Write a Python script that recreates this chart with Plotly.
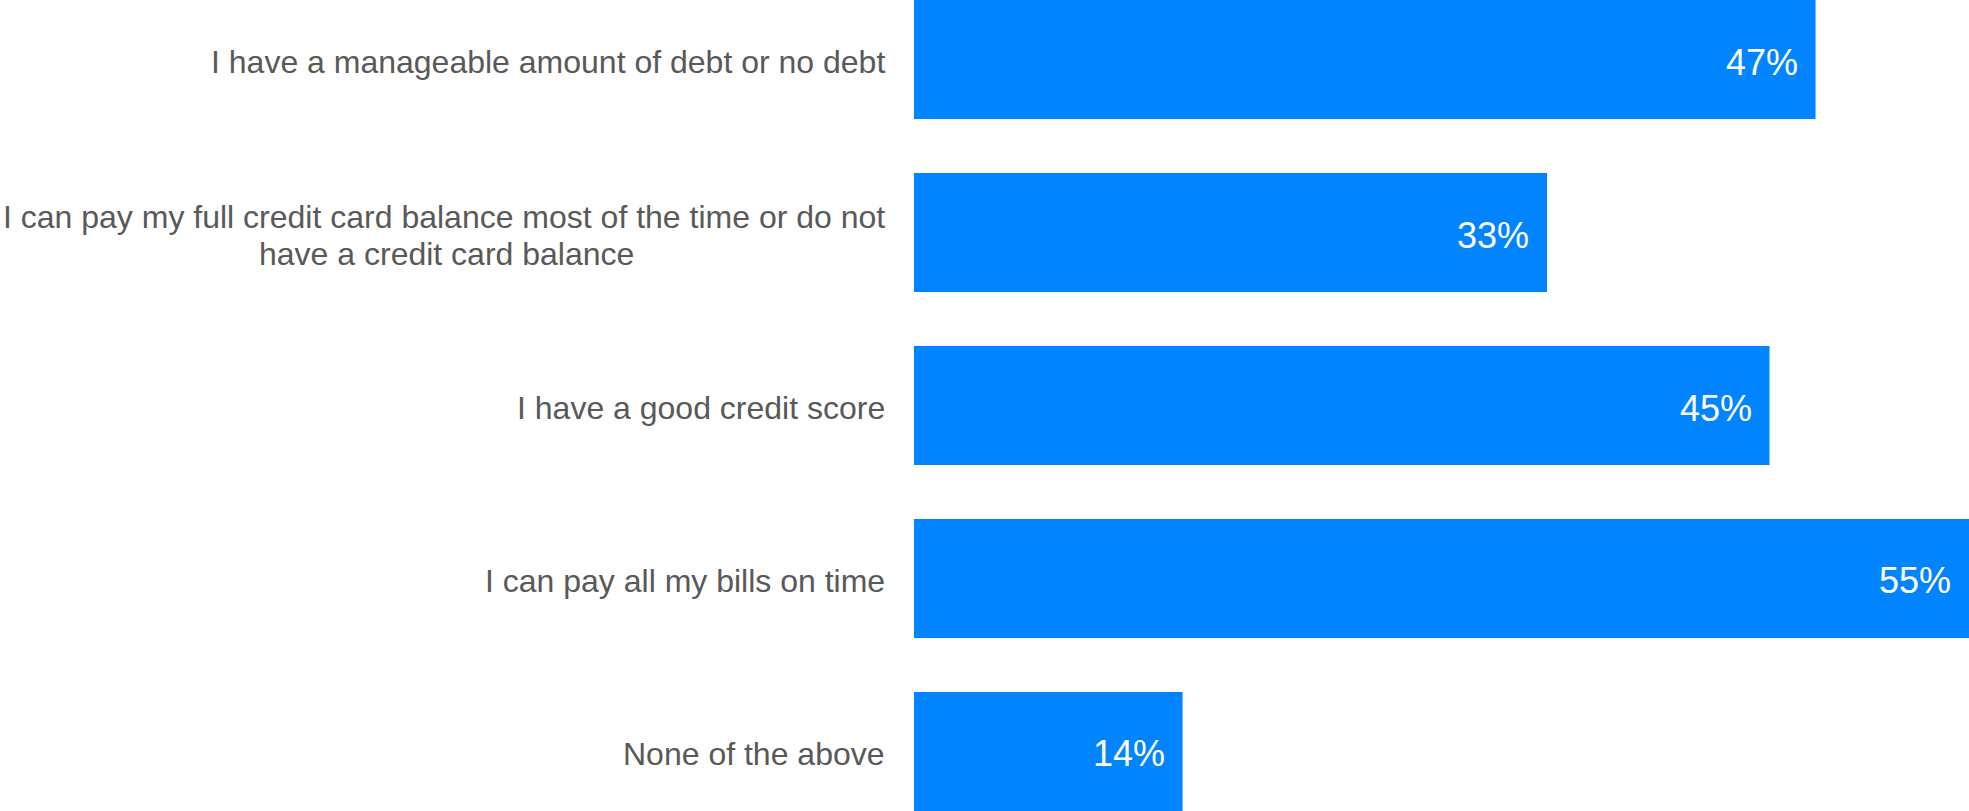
import plotly.graph_objects as go

categories = [
    "I have a manageable amount of debt or no debt",
    "I can pay my full credit card balance most of the time or do not<br>have a credit card balance",
    "I have a good credit score",
    "I can pay all my bills on time",
    "None of the above",
]
values = [47, 33, 44.6, 55, 14]
value_labels = ["47%", "33%", "45%", "55%", "14%"]

positions = list(range(len(categories)))

FONT = "Liberation Sans, Arial, sans-serif"
BAR_COLOR = "#0084FF"
LABEL_COLOR = "#595959"
LABEL_SIZE = 32
LINE_GAP = 37          # px between wrapped label lines
LABEL_PAD = 27         # px between label right edge and bar start
FIRST_LINE_HALF = 441  # half width of the first wrapped line, px
TEXT_DROP = -2.5       # small downward nudge of text, px

fig = go.Figure()
fig.add_trace(go.Bar(
    x=values,
    y=positions,
    orientation="h",
    width=0.688,
    marker=dict(color=BAR_COLOR, line=dict(width=0)),
    hoverinfo="skip",
))

annotations = []
for pos, cat in zip(positions, categories):
    lines = cat.split("<br>")
    n = len(lines)
    for i, line in enumerate(lines):
        yshift = ((n - 1) / 2 - i) * LINE_GAP + TEXT_DROP
        if i == 0:
            xanchor, xshift = "right", -LABEL_PAD
        else:
            xanchor, xshift = "center", -LABEL_PAD - FIRST_LINE_HALF
        annotations.append(dict(
            x=0, xref="x", y=pos, yref="y",
            text=line, showarrow=False,
            xanchor=xanchor, yanchor="middle", align="center",
            xshift=xshift, yshift=yshift,
            font=dict(family=FONT, size=LABEL_SIZE, color=LABEL_COLOR),
        ))
for pos, val, lab in zip(positions, values, value_labels):
    annotations.append(dict(
        x=val, xref="x", y=pos, yref="y",
        text=lab, showarrow=False,
        xanchor="right", yanchor="middle",
        xshift=-16, yshift=TEXT_DROP,
        font=dict(family=FONT, size=36, color="white"),
    ))

fig.update_layout(
    width=1969, height=811,
    margin=dict(l=914, r=0, t=0, b=0),
    paper_bgcolor="white", plot_bgcolor="white",
    showlegend=False,
    xaxis=dict(range=[0, 55], visible=False, fixedrange=True),
    yaxis=dict(range=[4.344, -0.344], visible=False, fixedrange=True),
    annotations=annotations,
    font=dict(family=FONT),
)

fig.write_html(
    "out.html",
    config={"displayModeBar": False},
    post_script="document.body.style.margin='0';document.body.style.overflow='hidden';",
)
